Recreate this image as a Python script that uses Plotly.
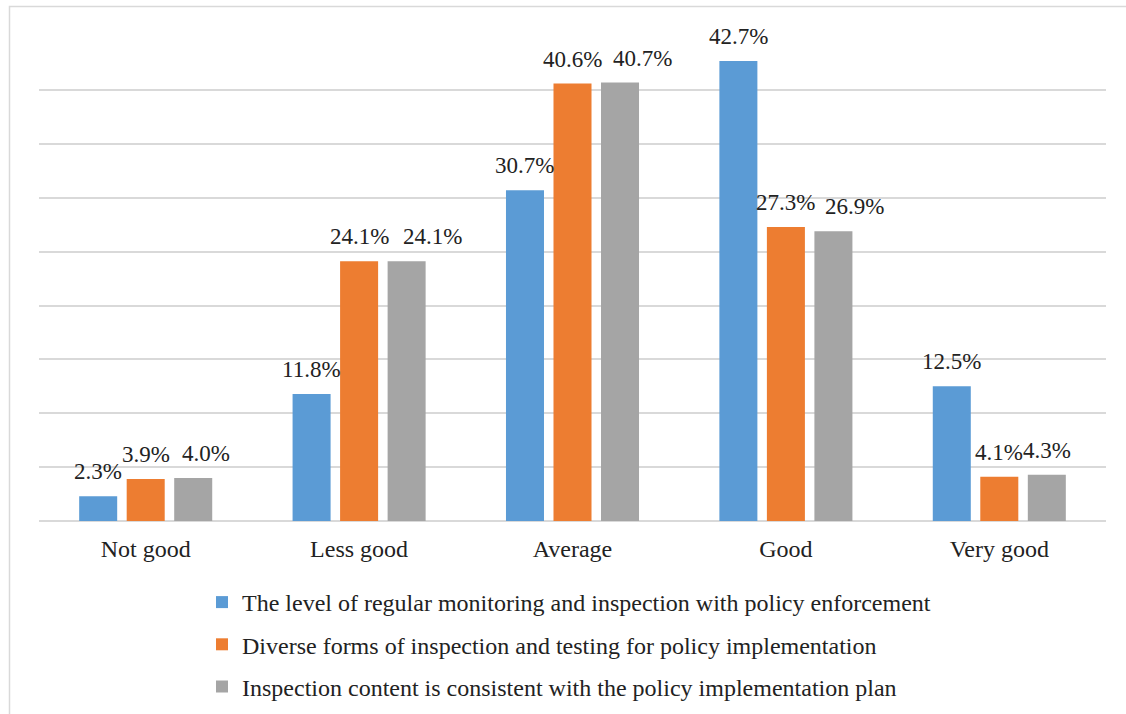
import plotly.graph_objects as go

categories = ["Not good", "Less good", "Average", "Good", "Very good"]
series_names = [
    "The level of regular monitoring and inspection with policy enforcement",
    "Diverse forms of inspection and testing for policy implementation",
    "Inspection content is consistent with the policy implementation plan",
]
s1 = [2.3, 11.8, 30.7, 42.7, 12.5]
s2 = [3.9, 24.1, 40.6, 27.3, 4.1]
s3 = [4.0, 24.1, 40.7, 26.9, 4.3]
colors = ["#5B9BD5", "#ED7D31", "#A5A5A5"]

# horizontal nudges (px) of the value labels, as placed in the reference
label_dx = [
    [0, 0, 0, 0, 0],
    [0, 0, 0, 0, 0],
    [13, 26, 22, 21, 0],
]

FONT = "Liberation Serif, Times New Roman, serif"
TXT = "#222222"

W, H = 1126, 714
L, T, R, B = 39, 36, 1126 - 1106, 714 - 521
pw, ph = W - L - R, H - T - B
BARGAP, GROUPGAP = 0.332, 0.2
slot = pw / len(categories) * (1 - BARGAP) / 3

def px_x(x):
    return (x - L) / pw

def px_y(y):
    return (H - B - y) / ph

fig = go.Figure()
annotations = []
for i, (name, vals) in enumerate(zip(series_names, [s1, s2, s3])):
    fig.add_trace(go.Bar(
        x=categories, y=vals, name=name,
        marker=dict(color=colors[i], line=dict(width=0)),
        legendgroup=f"g{i}",
    ))
    for j, (c, v) in enumerate(zip(categories, vals)):
        annotations.append(dict(
            x=c, y=v, xref="x", yref="y", text=f"{v:.1f}%",
            showarrow=False, yanchor="bottom", xanchor="center",
            xshift=(i - 1) * slot + label_dx[i][j], yshift=10,
            font=dict(family=FONT, size=23, color=TXT),
        ))

fig.update_layout(
    width=W, height=H,
    margin=dict(l=L, r=R, t=T, b=B, autoexpand=False),
    paper_bgcolor="white", plot_bgcolor="white",
    barmode="group", bargap=BARGAP, bargroupgap=GROUPGAP,
    font=dict(family=FONT, size=24, color=TXT),
    showlegend=True,
    legend=dict(
        orientation="v", x=px_x(202), xanchor="left", y=px_y(709), yanchor="bottom",
        font=dict(family=FONT, size=24, color=TXT),
        traceorder="grouped", tracegroupgap=8,
        itemwidth=30, bgcolor="rgba(0,0,0,0)",
    ),
    xaxis=dict(
        showgrid=False, showline=False, ticks="",
        tickfont=dict(family=FONT, size=24, color=TXT),
        ticklabelstandoff=11, automargin=False,
    ),
    yaxis=dict(
        range=[0, 45.02], tickvals=[0, 5, 10, 15, 20, 25, 30, 35, 40, 45],
        showticklabels=False, automargin=False,
        showgrid=True, gridcolor="#D9D9D9", gridwidth=1.5,
        zeroline=True, zerolinecolor="#D9D9D9", zerolinewidth=1.5,
        showline=False, ticks="",
    ),
    annotations=annotations,
    shapes=[dict(
        type="rect", xref="paper", yref="paper",
        x0=px_x(9.5), x1=px_x(1160), y0=px_y(6.5), y1=px_y(760),
        line=dict(color="#D9D9D9", width=1.5), fillcolor="rgba(0,0,0,0)",
        layer="below",
    )],
)

fig.write_html(
    "out.html",
    config={"displayModeBar": False},
    post_script="document.body.style.margin='0';",
)
